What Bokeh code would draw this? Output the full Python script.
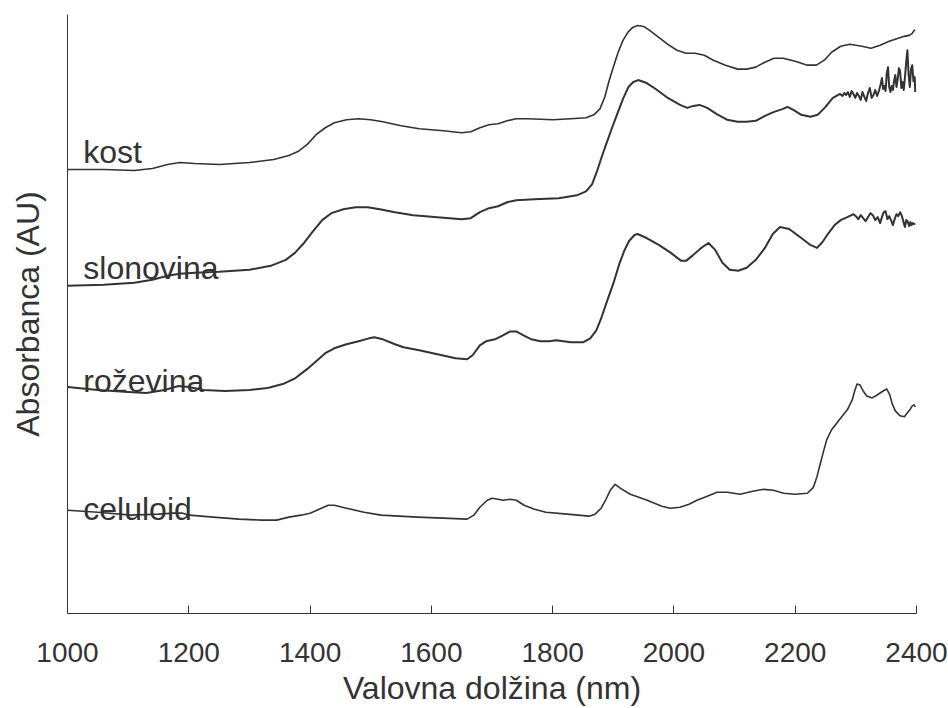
from bokeh.plotting import figure
from bokeh.models import Range1d, FixedTicker
from bokeh.core.properties import value
from bokeh.embed import file_html
from bokeh.resources import INLINE

# ---- data (wavelength in nm, absorbance in arbitrary units, offset per sample) ----
kost_nm = [1000, 1060, 1110, 1140, 1165, 1185, 1210, 1250, 1300, 1340, 1365, 1380, 1395, 1410,
           1425, 1440, 1460, 1480, 1500, 1520, 1550, 1580, 1620, 1650, 1665, 1680, 1695, 1710,
           1725, 1740, 1760, 1800, 1830, 1855, 1868, 1878, 1886, 1893, 1900, 1908, 1916, 1924,
           1932, 1940, 1950, 1960, 1975, 1990, 2005, 2020, 2035, 2050, 2065, 2085, 2105, 2120,
           2135, 2150, 2165, 2180, 2200, 2220, 2235, 2248, 2260, 2275, 2290, 2310, 2325, 2340,
           2355, 2370, 2380, 2388, 2393, 2396, 2398]
kost_au = [4.47, 4.47, 4.46, 4.48, 4.52, 4.54, 4.53, 4.52, 4.54, 4.57, 4.61, 4.65, 4.72, 4.82,
           4.89, 4.94, 4.97, 4.98, 4.97, 4.95, 4.91, 4.88, 4.86, 4.84, 4.85, 4.89, 4.92, 4.93,
           4.96, 4.98, 4.98, 4.97, 4.98, 4.99, 5.02, 5.08, 5.20, 5.36, 5.50, 5.65, 5.77, 5.85,
           5.90, 5.92, 5.91, 5.87, 5.80, 5.73, 5.67, 5.64, 5.64, 5.62, 5.57, 5.52, 5.48, 5.48,
           5.50, 5.55, 5.59, 5.59, 5.56, 5.52, 5.52, 5.57, 5.65, 5.71, 5.73, 5.71, 5.69, 5.72,
           5.76, 5.79, 5.81, 5.82, 5.84, 5.87, 5.87]

slon_nm = [1000, 1060, 1110, 1140, 1165, 1185, 1210, 1250, 1300, 1335, 1360, 1375, 1390, 1405,
           1420, 1435, 1455, 1475, 1495, 1515, 1540, 1570, 1610, 1650, 1665, 1680, 1695, 1710,
           1725, 1740, 1770, 1810, 1840, 1855, 1865, 1873, 1880, 1888, 1898, 1906, 1916, 1925,
           1933, 1941, 1955, 1970, 1990, 2010, 2022, 2032, 2042, 2055, 2070, 2088, 2105, 2120,
           2135, 2150, 2165, 2180, 2187, 2197, 2210, 2225, 2237, 2250, 2262, 2274,
           2278, 2281, 2284, 2287, 2290, 2293, 2296, 2299, 2302, 2305, 2308, 2311, 2314, 2317,
           2320, 2323, 2326, 2329, 2332, 2335, 2338, 2341, 2343, 2345, 2347, 2349, 2351, 2353,
           2355, 2357, 2359, 2361, 2363, 2365, 2367, 2369, 2371, 2373, 2375, 2377, 2379, 2381,
           2383, 2385, 2387, 2389, 2391, 2393, 2395, 2397, 2398]
slon_au = [3.30, 3.31, 3.33, 3.36, 3.40, 3.42, 3.43, 3.44, 3.46, 3.50, 3.56, 3.63, 3.73, 3.85,
           3.96, 4.03, 4.07, 4.09, 4.09, 4.07, 4.04, 4.01, 3.99, 3.97, 3.98, 4.04, 4.08, 4.10,
           4.14, 4.16, 4.17, 4.18, 4.21, 4.25, 4.32, 4.45, 4.58, 4.72, 4.89, 5.02, 5.18, 5.30,
           5.35, 5.37, 5.34, 5.28, 5.19, 5.12, 5.09, 5.11, 5.12, 5.09, 5.03, 4.97, 4.95, 4.95,
           4.96, 5.01, 5.05, 5.08, 5.10, 5.07, 5.02, 5.00, 5.02, 5.10, 5.19, 5.23,
           5.21, 5.24, 5.22, 5.25, 5.20, 5.26, 5.23, 5.19, 5.24, 5.21, 5.17, 5.25, 5.20, 5.16,
           5.24, 5.29, 5.19, 5.22, 5.27, 5.21, 5.26, 5.33, 5.39, 5.28, 5.31, 5.26, 5.44, 5.50,
           5.30, 5.25, 5.31, 5.27, 5.36, 5.42, 5.30, 5.38, 5.49, 5.46, 5.29, 5.35, 5.27, 5.40,
           5.55, 5.67, 5.42, 5.30, 5.48, 5.52, 5.36, 5.40, 5.25]

roz_nm = [1000, 1050, 1100, 1130, 1160, 1183, 1200, 1224, 1260, 1300, 1330, 1355, 1376, 1395,
          1412, 1425, 1440, 1460, 1480, 1497, 1506, 1520, 1540, 1554, 1580, 1610, 1640, 1659,
          1668, 1680, 1690, 1705, 1718, 1730, 1740, 1752, 1765, 1780, 1794, 1806, 1830, 1850,
          1862, 1872, 1880, 1890, 1900, 1910, 1918, 1926, 1935, 1940, 1955, 1975, 1995, 2012,
          2020, 2030, 2045, 2057, 2068, 2080, 2092, 2106, 2120, 2135, 2150, 2163, 2175, 2190,
          2210, 2225, 2236, 2245, 2255, 2265, 2275, 2286, 2296,
          2300, 2304, 2308, 2312, 2316, 2320, 2324, 2328, 2332, 2336, 2340, 2343, 2346, 2349,
          2352, 2355, 2358, 2361, 2364, 2367, 2370, 2373, 2376, 2379, 2381, 2383, 2385, 2388,
          2390, 2392, 2394, 2396, 2398]
roz_au = [2.28, 2.25, 2.23, 2.22, 2.25, 2.29, 2.28, 2.25, 2.24, 2.25, 2.27, 2.31, 2.37, 2.46,
          2.55, 2.62, 2.67, 2.71, 2.74, 2.77, 2.78, 2.76, 2.71, 2.68, 2.65, 2.61, 2.57, 2.56,
          2.60, 2.70, 2.74, 2.76, 2.80, 2.84, 2.84, 2.80, 2.76, 2.74, 2.74, 2.75, 2.73, 2.73,
          2.77, 2.85, 2.97, 3.15, 3.32, 3.52, 3.65, 3.75, 3.81, 3.82, 3.78, 3.71, 3.63, 3.55,
          3.55, 3.60, 3.68, 3.73, 3.66, 3.53, 3.46, 3.45, 3.48, 3.56, 3.68, 3.82, 3.89, 3.87,
          3.78, 3.71, 3.68, 3.74, 3.83, 3.91, 3.96, 3.99, 4.02,
          4.00, 3.97, 4.01, 3.98, 3.95, 3.99, 4.03, 4.01, 3.96, 3.99, 3.93, 3.99, 4.04, 4.05,
          3.97, 4.00, 3.96, 3.91, 3.97, 4.02, 4.00, 4.04, 4.00, 3.93, 3.89, 3.96, 3.95, 3.90,
          3.94, 3.91, 3.93, 3.92, 3.92]

cel_nm = [1000, 1050, 1105, 1150, 1175, 1190, 1201, 1240, 1283, 1320, 1345, 1365, 1385, 1400,
          1415, 1430, 1440, 1460, 1489, 1517, 1577, 1620, 1659, 1670, 1680, 1692, 1700, 1710,
          1718, 1730, 1740, 1753, 1770, 1789, 1824, 1860, 1870, 1880, 1888, 1895, 1903, 1912,
          1928, 1956, 1980, 1994, 2010, 2025, 2038, 2055, 2071, 2088, 2109, 2130, 2148, 2164,
          2181, 2200, 2220, 2230, 2236, 2241, 2247, 2252, 2260, 2269, 2278, 2286, 2294, 2298,
          2302, 2307, 2312, 2318, 2327, 2335, 2345, 2351, 2356, 2360, 2365, 2373, 2380, 2385,
          2389, 2393, 2396, 2398]
cel_au = [1.04, 1.02, 0.99, 1.00, 1.01, 1.01, 0.99, 0.97, 0.95, 0.94, 0.94, 0.97, 0.99, 1.01,
          1.05, 1.09, 1.09, 1.06, 1.02, 0.99, 0.97, 0.96, 0.95, 0.99, 1.07, 1.14, 1.16, 1.15,
          1.14, 1.15, 1.14, 1.09, 1.05, 1.02, 1.00, 0.98, 1.00, 1.06, 1.15, 1.24, 1.30, 1.26,
          1.20, 1.14, 1.08, 1.06, 1.07, 1.10, 1.14, 1.18, 1.22, 1.22, 1.20, 1.23, 1.25, 1.24,
          1.21, 1.20, 1.21, 1.27, 1.38, 1.50, 1.64, 1.75, 1.85, 1.92, 1.99, 2.05, 2.15, 2.24,
          2.31, 2.30, 2.24, 2.19, 2.17, 2.20, 2.24, 2.26, 2.20, 2.11, 2.04, 1.99, 1.98, 2.02,
          2.05, 2.09, 2.10, 2.08]

sample_names = ["kost", "slonovina", "roževina", "celuloid"]
x_ticks = [1000, 1200, 1400, 1600, 1800, 2000, 2200, 2400]

# ---- figure ----
INK = "#333333"
FONT = "Liberation Sans"

p = figure(width=948, height=708, output_backend="svg", toolbar_location=None,
           x_range=Range1d(1000, 2400), y_range=Range1d(0, 6.03),
           min_border_left=67, min_border_right=32, min_border_top=14, min_border_bottom=91)
p.outline_line_color = None
p.xgrid.visible = False
p.ygrid.visible = False
p.background_fill_color = "white"
p.border_fill_color = "white"

series = [(kost_nm, kost_au, 1.6), (slon_nm, slon_au, 2.0), (roz_nm, roz_au, 2.0), (cel_nm, cel_au, 1.6)]
for xs, ys, w in series:
    p.line(xs, ys, line_color=INK, line_width=w, line_join="round")

# sample labels
label_x = [1026, 1026, 1026, 1026]
label_y = [4.65, 3.48, 2.34, 1.05]
p.text(x=label_x, y=label_y, text=sample_names, text_font=value(FONT), text_font_size="32px",
       text_color=INK, text_align="left", text_baseline="alphabetic")

# x axis
xa = p.xaxis[0]
xa.ticker = FixedTicker(ticks=x_ticks)
xa.minor_tick_line_color = None
xa.major_tick_in = 8
xa.major_tick_out = 0
xa.major_tick_line_color = INK
xa.axis_line_color = INK
xa.major_label_text_font = FONT
xa.major_label_text_font_size = "28px"
xa.major_label_text_color = INK
xa.major_label_standoff = 29
xa.axis_label = "Valovna dolžina (nm)"
xa.axis_label_text_font = FONT
xa.axis_label_text_font_size = "32px"
xa.axis_label_text_font_style = "normal"
xa.axis_label_text_color = INK
xa.axis_label_standoff = 5

# y axis: line and label only
ya = p.yaxis[0]
ya.ticker = FixedTicker(ticks=[])
ya.minor_tick_line_color = None
ya.major_tick_line_color = None
ya.major_tick_in = 0
ya.major_tick_out = 0
ya.major_label_standoff = 0
ya.major_label_text_font_size = "0px"
ya.axis_line_color = INK
ya.axis_label = "Absorbanca (AU)"
ya.axis_label_text_font = FONT
ya.axis_label_text_font_size = "32px"
ya.axis_label_text_font_style = "normal"
ya.axis_label_text_color = INK
ya.axis_label_standoff = 22

open("out.html", "w").write(file_html(p, INLINE))
